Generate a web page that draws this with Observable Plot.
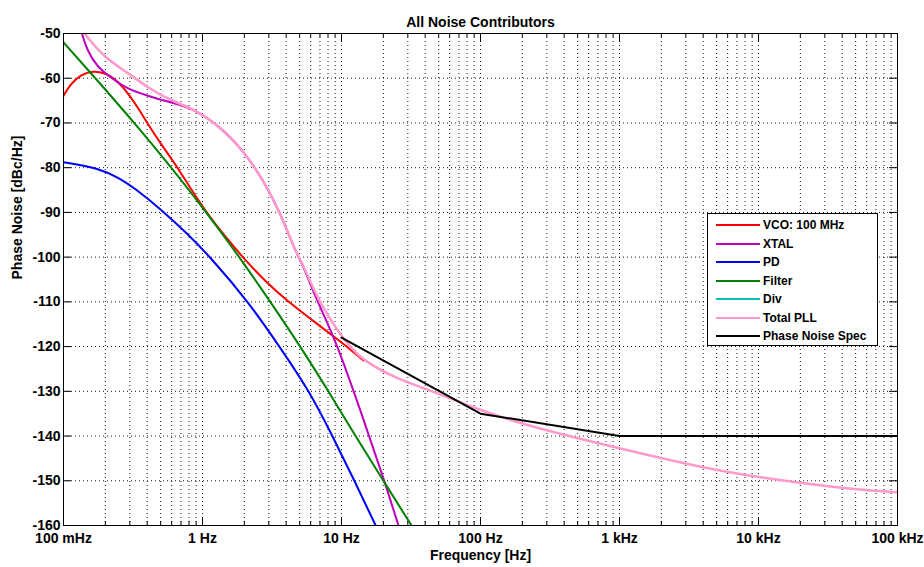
<!DOCTYPE html>
<html>
<head>
<meta charset="utf-8">
<script src="https://cdn.jsdelivr.net/npm/d3@7"></script>
<script src="https://cdn.jsdelivr.net/npm/@observablehq/plot@0.6"></script>
<style>
  body { margin: 0; background: #fff; }
  #wrap { position: relative; width: 924px; height: 567px; }
  #legend { position: absolute; left: 707px; top: 213px; width: 171px; height: 133px; box-sizing: border-box;
            border: 1px solid #000; background: #fff; font: bold 12px "Liberation Sans", Arial, sans-serif; color: #000; }
  .row { position: absolute; left: 0; height: 16px; display: flex; align-items: center; white-space: nowrap; }
  .sw { display: inline-block; width: 44px; height: 2px; margin-left: 8px; margin-right: 3px; }
</style>
</head>
<body>
<div id="wrap"></div>
<script>
// ---------- data ----------
const title = "All Noise Contributors";
const xLabel = "Frequency [Hz]";
const yLabel = "Phase Noise [dBc/Hz]";

const xMajor = [0.1, 1, 10, 100, 1000, 10000, 100000];
const xTickLabels = ["100 mHz", "1 Hz", "10 Hz", "100 Hz", "1 kHz", "10 kHz", "100 kHz"];
const yTicks = [-50, -60, -70, -80, -90, -100, -110, -120, -130, -140, -150, -160];

const seriesNames  = ["VCO: 100 MHz", "XTAL", "PD", "Filter", "Div", "Total PLL", "Phase Noise Spec"];
const seriesColors = ["#ff0000", "#bf00bf", "#0000ff", "#008000", "#00bfbf", "#ff99cc", "#000000"];

const vcoF  = [0.1, 0.112, 0.1325, 0.164, 0.207, 0.257, 0.319, 0.402, 0.499, 0.672, 1.017, 1.54, 2.04, 2.84, 3.96, 6.72, 9.36, 11.6, 14.4];
const vcoDb = [-63.9, -61.4, -59.2, -58.3, -58.9, -61.2, -65.0, -70.1, -74.6, -80.2, -89.3, -96.3, -100.75, -105.45, -109.5, -115.0, -118.4, -120.65, -123.1];

const xtalF  = [0.136, 0.148, 0.175, 0.218, 0.287, 0.4, 0.589, 0.866, 1.348, 1.97, 2.75, 3.64, 4.52, 5.33, 6.29, 7.55, 9.36, 13.7, 20.0, 25.7];
const xtalDb = [-50.1, -53.8, -57.5, -59.8, -62.4, -63.9, -65.4, -66.8, -70.9, -76.2, -82.9, -90.2, -97.8, -102.1, -107.9, -113.3, -119.8, -134.3, -149.3, -160];

const pdF  = [0.1, 0.185, 0.257, 0.319, 0.499, 0.78, 1.14, 2.14, 3.58, 5.89, 8.61, 12.4, 17.6];
const pdDb = [-78.8, -80.2, -82.5, -84.4, -89.2, -94.8, -100, -110, -120, -130, -140, -150, -160];

const filterF  = [0.1, 0.17, 0.324, 0.598, 1.068, 1.846, 3.08, 5.07, 8.06, 12.6, 20.0, 31.9];
const filterDb = [-52, -60, -70, -80, -90, -100, -110, -120, -130, -140, -150, -160];

const divF  = [];
const divDb = [];

const totalF  = [0.1416, 0.195, 0.287, 0.4, 0.589, 0.866, 1.348, 1.97, 2.75, 3.64, 4.52, 5.33, 6.29, 7.55, 9.36, 11.6, 14.4, 23.7, 43.7, 100, 240, 1016, 3830, 10300, 34700, 100000];
const totalDb = [-50, -55.3, -58.7, -62.0, -65.0, -66.8, -70.9, -76.2, -82.9, -90.2, -97.8, -101.9, -107.2, -111.9, -116.4, -120.2, -123.1, -126.9, -129.8, -134.3, -138.1, -142.8, -147.0, -149.3, -151.5, -152.6];

const specF  = [10, 100, 1000, 100000];
const specDb = [-118, -135, -140, -140];

// ---------- build ----------
const seriesF  = [vcoF, xtalF, pdF, filterF, divF, totalF, specF];
const seriesDb = [vcoDb, xtalDb, pdDb, filterDb, divDb, totalDb, specDb];
const rows = [];
seriesNames.forEach((name, s) => {
  seriesF[s].forEach((f, i) => rows.push({series: name, f, db: seriesDb[s][i]}));
});

const W = 924, H = 567, mt = 33, mb = 42, ml = 63, mr = 27;
const xDomain = [xMajor[0], xMajor[xMajor.length - 1]];
const yDomain = [d3.min(yTicks), d3.max(yTicks)];
const dbPerPx = (yDomain[1] - yDomain[0]) / (H - mt - mb);
const decPerPx = Math.log10(xDomain[1] / xDomain[0]) / (W - ml - mr);

const xMinor = [];
for (let i = 0; i < xMajor.length - 1; i++) for (let k = 2; k <= 9; k++) xMinor.push(xMajor[i] * k);
const xGrid = xMajor.concat(xMinor);

const font = "Liberation Sans, Arial, sans-serif";
const gridStyle = {stroke: "#000", strokeWidth: 1, strokeDasharray: "1,3", strokeOpacity: 0.9};

const marks = [
  Plot.ruleX(xGrid, {x: d => d, ...gridStyle}),
  Plot.ruleY(yTicks, {y: d => d, ...gridStyle}),
  // inner ticks
  Plot.ruleX(xMajor, {x: d => d, y1: yDomain[0], y2: yDomain[0] + 8 * dbPerPx, stroke: "#000"}),
  Plot.ruleX(xMajor, {x: d => d, y1: yDomain[1], y2: yDomain[1] - 8 * dbPerPx, stroke: "#000"}),
  Plot.ruleX(xMinor, {x: d => d, y1: yDomain[0], y2: yDomain[0] + 4 * dbPerPx, stroke: "#000"}),
  Plot.ruleX(xMinor, {x: d => d, y1: yDomain[1], y2: yDomain[1] - 4 * dbPerPx, stroke: "#000"}),
  Plot.ruleY(yTicks, {y: d => d, x1: xDomain[0], x2: xDomain[0] * Math.pow(10, 8 * decPerPx), stroke: "#000"}),
  Plot.ruleY(yTicks, {y: d => d, x1: xDomain[1], x2: xDomain[1] / Math.pow(10, 8 * decPerPx), stroke: "#000"}),
];

seriesNames.forEach((name, s) => {
  const data = rows.filter(r => r.series === name);
  if (!data.length) return;
  marks.push(Plot.line(data, {
    x: "f", y: "db", stroke: seriesColors[s],
    strokeWidth: name === "Total PLL" ? 2.5 : 2,
    curve: name === "Phase Noise Spec" ? "linear" : "basis",
    clip: true
  }));
});

marks.push(
  Plot.frame({stroke: "#000", strokeWidth: 1}),
  Plot.axisX({ticks: xMajor, tickSize: 0, tickPadding: 8, tickFormat: d => xTickLabels[xMajor.indexOf(d)],
              fontSize: 14, fontWeight: "bold", fontFamily: font, label: null}),
  Plot.axisY({ticks: yTicks, tickSize: 0, tickPadding: 3, tickFormat: d => String(d),
              fontSize: 14, fontWeight: "bold", fontFamily: font, label: null}),
  Plot.text([title], {text: d => d, frameAnchor: "top", dy: -16, fontSize: 14, fontWeight: "bold", fontFamily: font}),
  Plot.text([xLabel], {text: d => d, frameAnchor: "bottom", dy: 34, fontSize: 14, fontWeight: "bold", fontFamily: font}),
  Plot.text([yLabel], {text: d => d, frameAnchor: "left", dx: -46, rotate: -90, fontSize: 14, fontWeight: "bold", fontFamily: font})
);

const chart = Plot.plot({
  width: W, height: H,
  marginTop: mt, marginBottom: mb, marginLeft: ml, marginRight: mr,
  x: {type: "log", domain: xDomain, axis: null},
  y: {type: "linear", domain: yDomain, axis: null},
  style: {fontFamily: font, background: "#fff", color: "#000"},
  marks
});

const wrap = document.getElementById("wrap");
wrap.appendChild(chart);

// legend (inside the plot area, like the reference)
const legend = document.createElement("div");
legend.id = "legend";
seriesNames.forEach((name, i) => {
  const row = document.createElement("div");
  row.className = "row";
  row.style.top = (3 + i * 18.5) + "px";
  const sw = document.createElement("span");
  sw.className = "sw";
  sw.style.background = seriesColors[i];
  const t = document.createElement("span");
  t.textContent = name;
  row.appendChild(sw); row.appendChild(t);
  legend.appendChild(row);
});
wrap.appendChild(legend);
</script>
</body>
</html>
